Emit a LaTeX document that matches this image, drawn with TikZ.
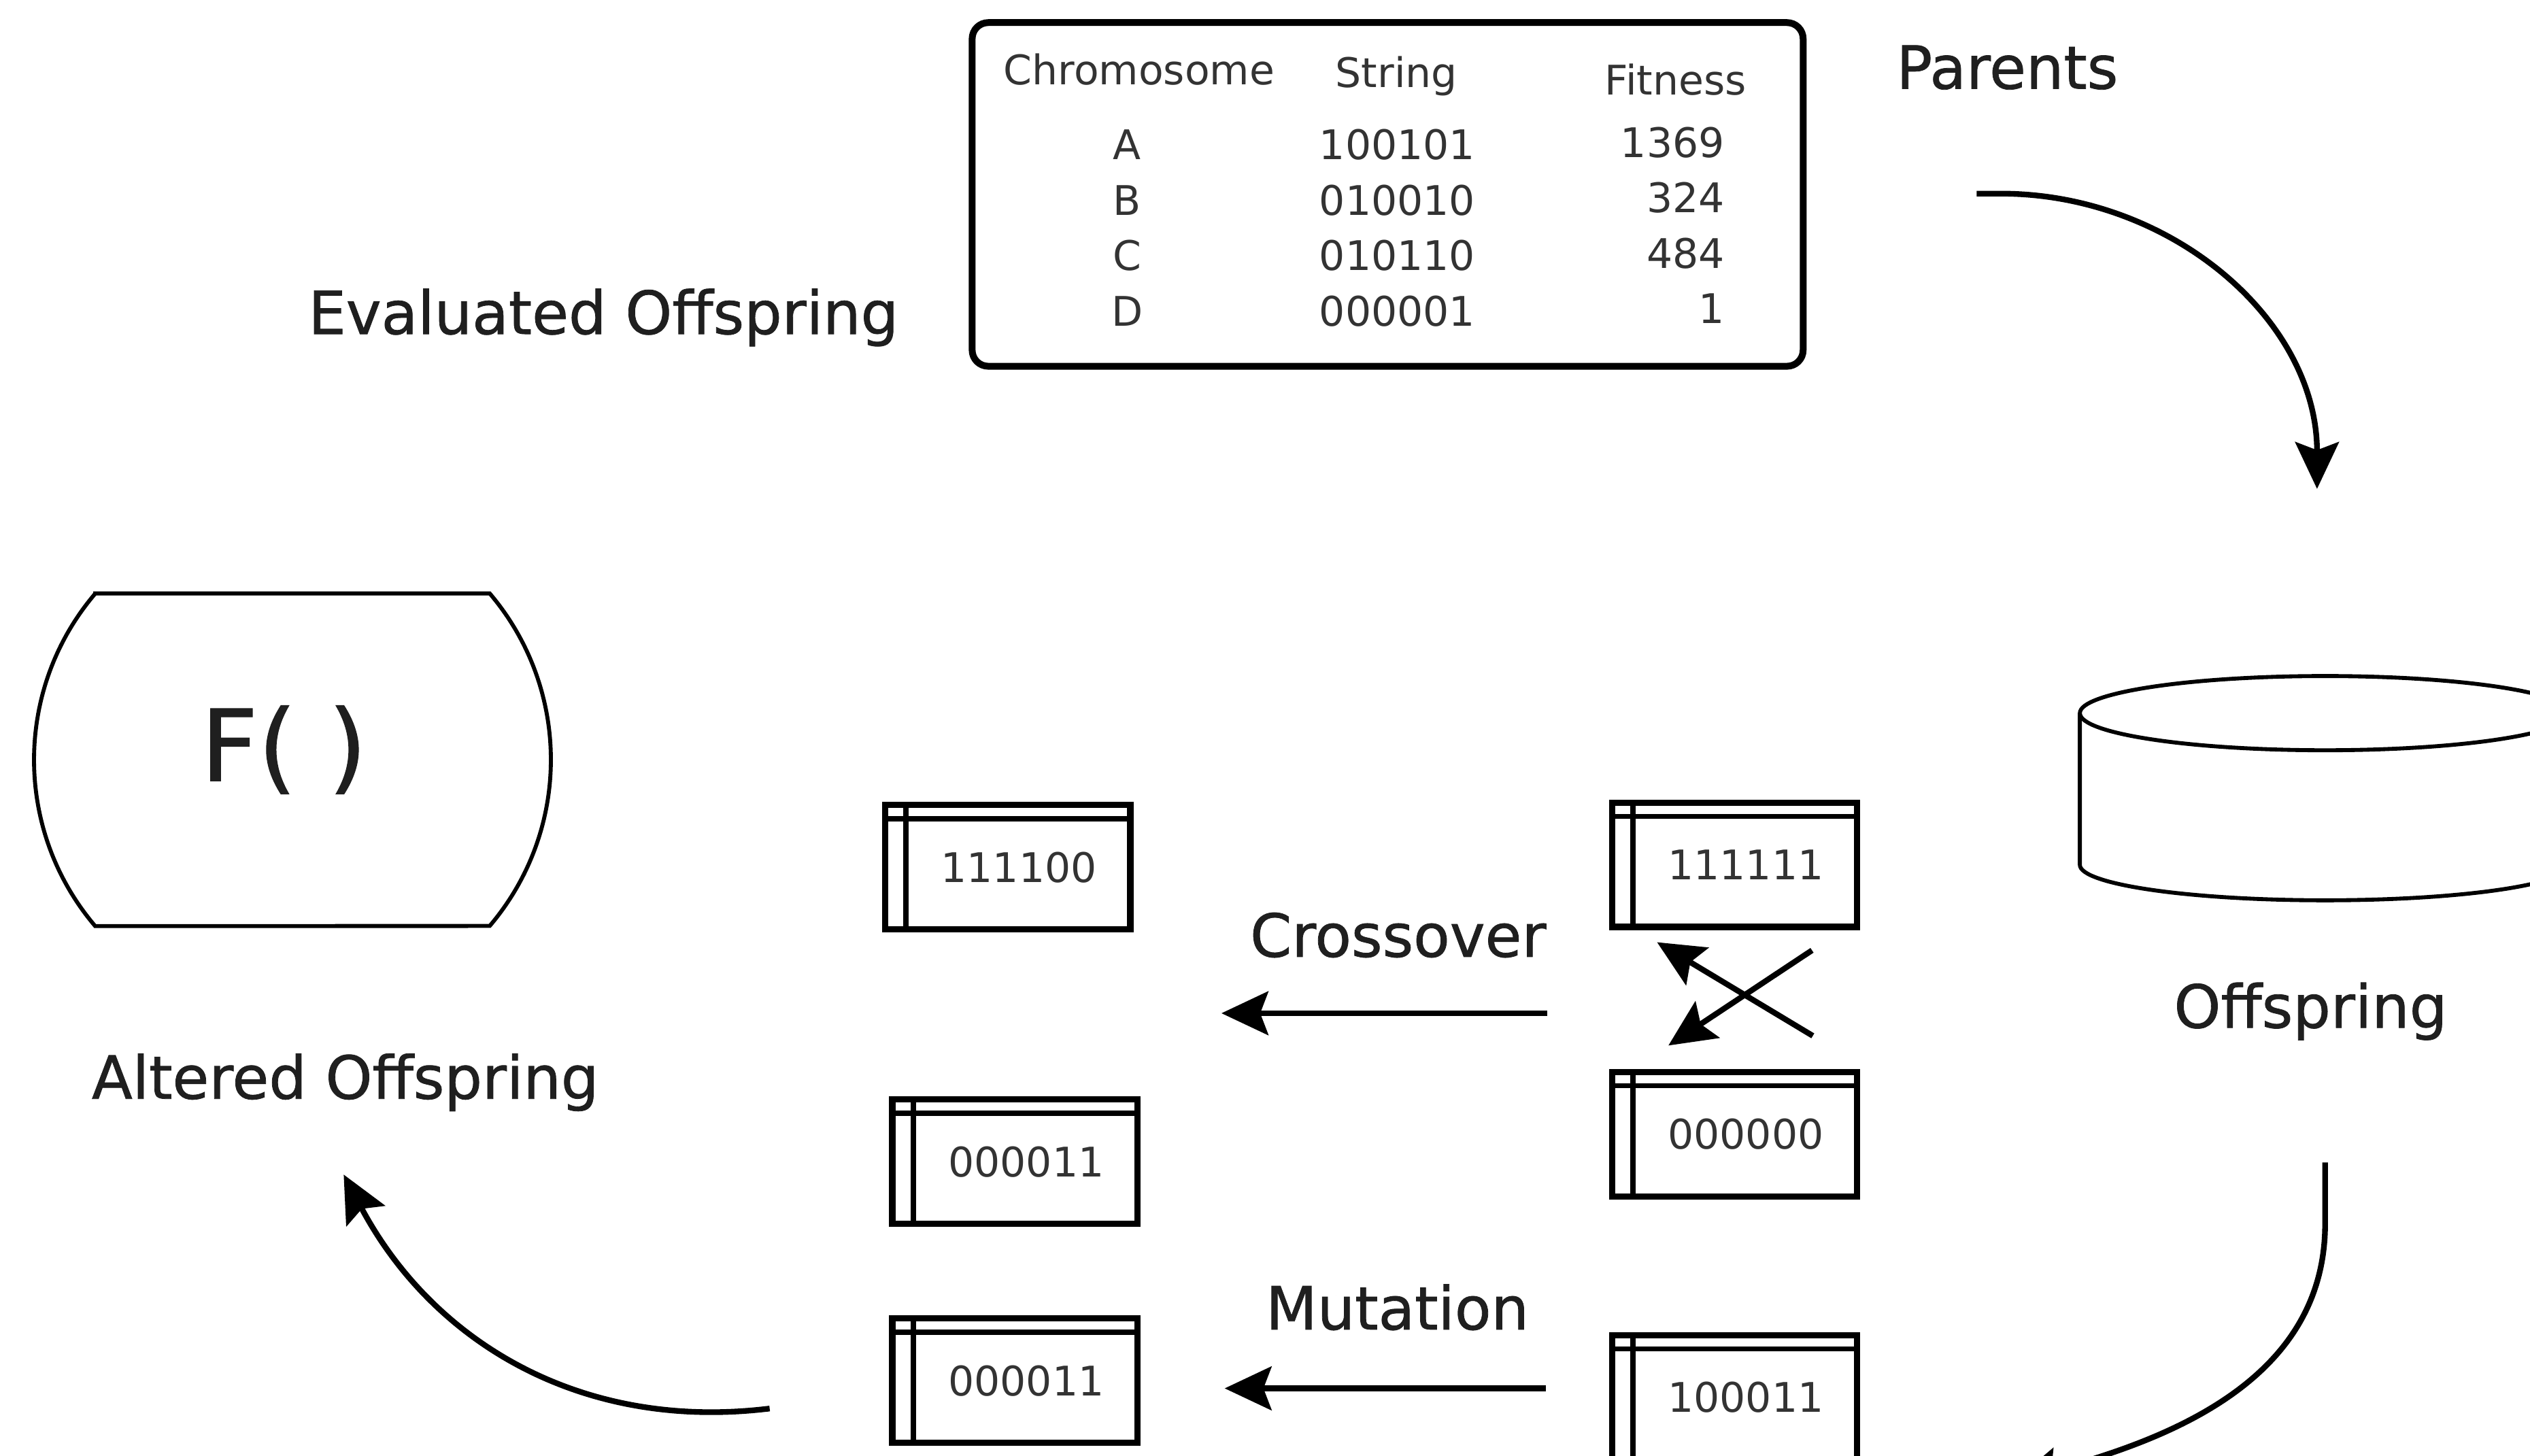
\documentclass[tikz,border=0pt]{standalone}
\usepackage{fontspec}
\setmainfont{DejaVu Sans}
\newfontfamily\lblfont[FakeBold=0.9]{DejaVu Sans}
\usetikzlibrary{arrows.meta}

\begin{document}
\begin{tikzpicture}[line width=0.7pt,
  lbl/.style={font=\lblfont\fontsize{10.5}{12}\selectfont, text=black!88, anchor=base, inner sep=0pt},
  cell/.style={font=\fontsize{7.2}{8.6}\selectfont, text=black!80, anchor=base, inner sep=0pt},
  chromo/.style={draw, line width=1.1pt, minimum width=1.52cm, minimum height=0.77cm, inner sep=0pt,
    font=\fontsize{7.2}{8.6}\selectfont, text=black!80, execute at begin node={\hspace*{1.4mm}},
    path picture={
      \draw[line width=0.9pt] ([xshift=1.3mm]path picture bounding box.north west) -- ([xshift=1.3mm]path picture bounding box.south west);
      \draw[line width=0.9pt] ([yshift=-0.85mm]path picture bounding box.north west) -- ([yshift=-0.85mm]path picture bounding box.north east);}},
  arr/.style={-{Stealth[length=2.9mm, width=2.7mm, inset=0.5mm]}, line width=1pt}]
  \useasboundingbox (0,0) rectangle (15.68,9.02);
  \clip (0,0) rectangle (15.68,9.02);

  % evaluated offspring table
  \node[draw, line width=1.2pt, rounded corners=1mm, minimum width=5.15cm, minimum height=2.13cm] (table) at (8.60,7.815) {};
  \node[cell] (hchr) at (7.06,8.497) {Chromosome};
  \node[cell] (hstr) at (8.655,8.48) {String};
  \node[cell] (hfit) at (10.385,8.434) {Fitness};
  \foreach \c/\s/\f [count=\i] in {A/100101/1369, B/010010/324, C/010110/484, D/000001/1} {
    \node[cell] (chr\i) at (6.985,8.373-0.343*\i) {\c};
    \node[cell] (str\i) at (8.66,8.373-0.343*\i) {\s};
    \node[cell, anchor=base east] (fit\i) at (10.70,8.388-0.343*\i) {\f};
  }
  \node[lbl] (evalo) at (3.74,6.95) {Evaluated Offspring};
  \node[lbl] (parents) at (12.44,8.47) {Parents};

  % fitness function
  \draw (0.59,5.342) -- (3.035,5.342) arc[start angle=40.4, end angle=-40.4, radius=1.59]
    -- (0.59,3.28) arc[start angle=220.4, end angle=139.6, radius=1.59] -- cycle;
  \node[font=\lblfont\fontsize{17.5}{20}\selectfont, text=black!88, anchor=base, inner sep=0pt] (fx) at (1.76,4.18) {F( )};
  \node[lbl] (altered) at (2.14,2.21) {Altered Offspring};

  % offspring pool, runs past the right edge
  \draw (14.41,4.60) ellipse[x radius=1.52, y radius=0.23];
  \draw (12.89,4.60) -- (12.89,3.66) arc[start angle=180, end angle=360, x radius=1.52, y radius=0.22] -- (15.93,4.60);
  \node[lbl] (offsp) at (14.32,2.65) {Offspring};

  % strings before and after
  \node[chromo] (p1) at (10.75,3.66) {111111};
  \node[chromo] (p2) at (10.75,1.99) {000000};
  \node[chromo] (p3) at (10.75,0.36) {100011};
  \node[chromo] (c1) at (6.245,3.645) {111100};
  \node[chromo] (c2) at (6.29,1.82) {000011};
  \node[chromo] (c3) at (6.29,0.463) {000011};
  \node[lbl] (cross) at (8.665,3.09) {Crossover};
  \node[lbl] (mut) at (8.66,0.78) {Mutation};

  \coordinate (par0) at (12.25,7.82); \coordinate (par1) at (14.36,5.99);
  \coordinate (off0) at (14.41,1.815); \coordinate (off1) at (12.48,-0.16);
  \coordinate (alt0) at (4.77,0.29); \coordinate (alt1) at (2.13,1.74);
  \coordinate (xo0) at (9.59,2.74); \coordinate (xo1) at (7.57,2.74);
  \coordinate (mu0) at (9.58,0.415); \coordinate (mu1) at (7.59,0.415);
  \coordinate (sw0) at (11.235,2.60); \coordinate (sw1) at (10.27,3.18);
  \coordinate (sw2) at (11.23,3.13); \coordinate (sw3) at (10.34,2.54);

  \draw[arr] (par0) -- ++(0.15,0) to[out=0, in=90] (par1);
  \draw[arr] (off0) -- ++(0,-0.38) to[out=270, in=15] (off1);
  \draw[arr] (alt0) to[out=187, in=-62] (alt1);
  \draw[arr] (xo0) -- (xo1);
  \draw[arr] (mu0) -- (mu1);
  \draw[arr] (sw0) -- (sw1);
  \draw[arr] (sw2) -- (sw3);
\end{tikzpicture}
\end{document}
